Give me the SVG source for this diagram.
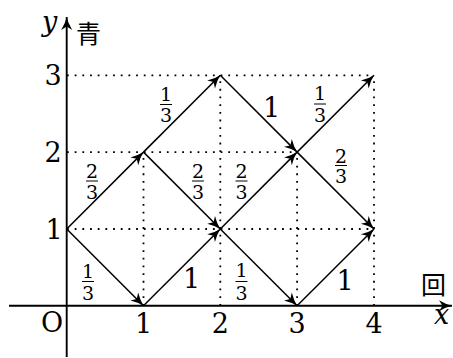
<svg xmlns="http://www.w3.org/2000/svg" width="453" height="358" viewBox="0 0 453 358">
<style>
.ax{stroke:#000;stroke-width:1.9;fill:none}
.dot{stroke:#000;stroke-width:1.8;stroke-dasharray:1.8 5.88;fill:none}
.ar{stroke:#000;stroke-width:1.5;fill:none;marker-end:url(#ah)}
.big{font-size:27px;font-weight:300}
.fr{font-size:19px;text-anchor:middle}
.it{font-style:italic;font-size:27px}
.cjk{font-size:25px;fill:#000}
.bar{stroke:#000;stroke-width:1}
</style>
<defs>
<marker id="ah" markerUnits="userSpaceOnUse" markerWidth="16" markerHeight="14" refX="13" refY="5.5" orient="auto" overflow="visible">
<path d="M0,0 Q7,4.2 13,5.5 Q7,6.8 0,11 L3.5,5.5 Z" fill="#000"/>
</marker>
</defs>
<g id="grid">
<line class="dot" x1="67" y1="75.3" x2="374" y2="75.3"/>
<line class="dot" x1="67" y1="152.1" x2="297.1" y2="152.1"/>
<line class="dot" x1="67" y1="229" x2="374" y2="229"/>
<line class="dot" x1="143.5" y1="305.7" x2="143.5" y2="152.1"/>
<line class="dot" x1="220.3" y1="305.7" x2="220.3" y2="75.3"/>
<line class="dot" x1="297.1" y1="305.7" x2="297.1" y2="152.1"/>
<line class="dot" x1="374" y1="305.7" x2="374" y2="75.3"/>
</g>
<g id="axes">
<line class="ax" x1="9" y1="305.7" x2="452" y2="305.7" marker-end="url(#ah)"/>
<line class="ax" x1="66.7" y1="357" x2="66.7" y2="17" marker-end="url(#ah)"/>
</g>
<g id="connectors">
<line class="ar" x1="66.7" y1="229" x2="143.5" y2="305.7"/>
<line class="ar" x1="66.7" y1="229" x2="143.5" y2="152.1"/>
<line class="ar" x1="143.5" y1="305.7" x2="220.3" y2="229"/>
<line class="ar" x1="143.5" y1="152.1" x2="220.3" y2="75.3"/>
<line class="ar" x1="143.5" y1="152.1" x2="220.3" y2="229"/>
<line class="ar" x1="220.3" y1="75.3" x2="297.1" y2="152.1"/>
<line class="ar" x1="220.3" y1="229" x2="297.1" y2="152.1"/>
<line class="ar" x1="220.3" y1="229" x2="297.1" y2="305.7"/>
<line class="ar" x1="297.1" y1="305.7" x2="374" y2="229"/>
<line class="ar" x1="297.1" y1="152.1" x2="374" y2="75.3"/>
<line class="ar" x1="297.1" y1="152.1" x2="374" y2="229"/>
</g>
<g id="axis-labels" font-family="'DejaVu Serif', serif">
<text class="it" x="42" y="31">y</text>
<text class="cjk" x="76" y="43" font-family="'Noto Sans CJK JP', 'Noto Sans CJK SC', sans-serif">青</text>
<text class="cjk" x="421" y="294" font-family="'Noto Sans CJK JP', 'Noto Sans CJK SC', sans-serif">回</text>
<text class="it" x="434" y="324">x</text>
<text class="big" x="52" y="332" text-anchor="middle">O</text>
<text class="big" x="53" y="85" text-anchor="middle">3</text>
<text class="big" x="53" y="162" text-anchor="middle">2</text>
<text class="big" x="54" y="239" text-anchor="middle">1</text>
<text class="big" x="143.5" y="333" text-anchor="middle">1</text>
<text class="big" x="220.3" y="333" text-anchor="middle">2</text>
<text class="big" x="297.1" y="333" text-anchor="middle">3</text>
<text class="big" x="374" y="333" text-anchor="middle">4</text>
</g>
<g id="edge-labels" font-family="'DejaVu Serif', serif">
<g id="l1"><text class="fr" x="88" y="278">1</text><line class="bar" x1="82" y1="281.5" x2="94" y2="281.5"/><text class="fr" x="88" y="300">3</text></g>
<g id="l2"><text class="fr" x="92" y="178">2</text><line class="bar" x1="86" y1="181" x2="98" y2="181"/><text class="fr" x="92" y="199">3</text></g>
<g id="l3"><text class="fr" x="166" y="101">1</text><line class="bar" x1="160" y1="104.5" x2="172" y2="104.5"/><text class="fr" x="166" y="122">3</text></g>
<g id="l4"><text class="fr" x="198" y="178">2</text><line class="bar" x1="192" y1="181" x2="204" y2="181"/><text class="fr" x="198" y="199">3</text></g>
<g id="l5"><text class="fr" x="241.5" y="178">2</text><line class="bar" x1="235.5" y1="181" x2="247.5" y2="181"/><text class="fr" x="241.5" y="199">3</text></g>
<g id="l6"><text class="fr" x="241.5" y="277">1</text><line class="bar" x1="235.5" y1="281.5" x2="247.5" y2="281.5"/><text class="fr" x="241.5" y="300">3</text></g>
<g id="l7"><text class="fr" x="320" y="100">1</text><line class="bar" x1="314" y1="104" x2="326" y2="104"/><text class="fr" x="320" y="122">3</text></g>
<g id="l8"><text class="fr" x="341" y="163">2</text><line class="bar" x1="335" y1="165.5" x2="347" y2="165.5"/><text class="fr" x="341" y="183">3</text></g>
<text class="big" x="191.5" y="288" text-anchor="middle">1</text>
<text class="big" x="271.5" y="117" text-anchor="middle">1</text>
<text class="big" x="345" y="290" text-anchor="middle">1</text>
</g>
</svg>
